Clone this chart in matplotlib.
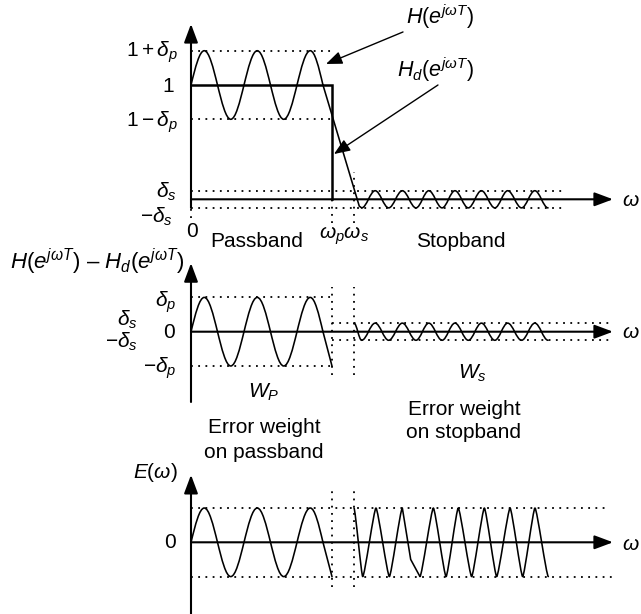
import matplotlib
matplotlib.use('Agg')
import matplotlib.pyplot as plt
from matplotlib.path import Path
from matplotlib.patches import PathPatch

plt.rcParams['font.family'] = ['Liberation Sans', 'DejaVu Sans']
plt.rcParams['mathtext.fontset'] = 'custom'
plt.rcParams['mathtext.rm'] = 'Liberation Sans'
plt.rcParams['mathtext.it'] = 'Liberation Sans:italic'
plt.rcParams['mathtext.bf'] = 'Liberation Sans:bold'
plt.rcParams['mathtext.sf'] = 'Liberation Sans'

# ---------------- data ----------------
delta_p = 0.3          # passband ripple
delta_s = 0.075        # stopband ripple
omega_p = 10.64        # passband edge
omega_s = 12.30        # stopband edge
omega_max = 31.85      # end of frequency axis

# passband ripple extrema (normalised by delta_p)
pass_w = [0, 1, 3, 5, 7, 9, 9.96]
pass_v = [0, 1, -1, 1, -1, 1, 0]
# passband error continues straight to -delta_p at omega_p
pass_end_w = [9.96, 10.64]
pass_end_v = [0, -1]

# transition band of H (absolute magnitude)
trans_w = [9.96, 12.70, 12.88]
trans_h = [1.0, -0.06, -0.075]

# stopband ripple extrema (normalised by delta_s)
stop_w = [12.88, 13.90, 14.92, 15.95, 16.98, 17.95, 18.95, 19.92,
          20.93, 21.92, 22.93, 23.90, 24.95, 25.95, 26.95]
stop_v = [-1, 1, -1, 1, -1, 1, -1, 1, -1, 1, -1, 1, -1, 1, -1]

# weighted error in stopband (normalised by delta_p)
err_stop_w = [12.30, 12.96, 13.96, 14.97, 15.95, 16.58, 17.28, 18.29, 19.25,
              20.17, 21.18, 22.14, 23.07, 24.08, 25.03, 25.96, 26.97]
err_stop_v = [1, -1, 1, -1, 1, -0.5, -1, 1, -1, 1, -1, 1, -1, 1, -1, 1, -1]

# desired response
hd_w = [0, omega_p, omega_p]
hd_h = [1, 1, 0]

# ---------------- figure ----------------
W, H = 641, 614
fig = plt.figure(figsize=(W / 100, H / 100), dpi=100)
UNIT_X = 13.25
UNIT_Y = 114.3
X0 = 191


def band_axes(top_px, bot_px, zero_px):
    ax = fig.add_axes([0, 1 - bot_px / H, 1, (bot_px - top_px) / H])
    ax.set_xlim(-X0 / UNIT_X, (W - X0) / UNIT_X)
    ax.set_ylim((zero_px - bot_px) / UNIT_Y, (zero_px - top_px) / UNIT_Y)
    ax.axis('off')
    return ax


def wave(ax, w, v, scale, offset=0.0, k=0.3634, lw=1.15):
    verts = [(w[0], offset + scale * v[0])]
    codes = [Path.MOVETO]
    for i in range(len(w) - 1):
        a, b = w[i], w[i + 1]
        va, vb = v[i], v[i + 1]
        d = b - a
        if abs(va) == 1 and abs(vb) == 1:
            c1, c2 = (a + k * d, va), (b - k * d, vb)
        elif va == 0 and abs(vb) == 1:
            c1, c2 = (a + d / 3, vb * 0.5236), (b - 0.358 * d, vb)
        elif vb == 0 and abs(va) == 1:
            c1, c2 = (a + 0.358 * d, va), (b - d / 3, va * 0.5236)
        else:
            verts.append((b, offset + scale * vb))
            codes.append(Path.LINETO)
            continue
        for (x, y) in (c1, c2, (b, vb)):
            verts.append((x, offset + scale * y))
        codes += [Path.CURVE4] * 3
    ax.add_patch(PathPatch(Path(verts, codes), fill=False, lw=lw, ec='k',
                           joinstyle='round', capstyle='round'))


def arrow(ax, start, end, lw=1.5, hl=0.75, hw=0.28, ms=15):
    ax.annotate('', xy=end, xytext=start,
                arrowprops=dict(arrowstyle=f'-|>,head_length={hl},head_width={hw}',
                                lw=lw, color='k', shrinkA=0, shrinkB=0,
                                mutation_scale=ms),
                annotation_clip=False)


DOT = dict(color='k', lw=1.3, ls=(0, (1, 3.0)))


def txt(x, y, s, ha='center', va='center', size=15, **kw):
    fig.text(x / W, 1 - y / H, s, ha=ha, va=va, fontsize=size, **kw)


# ---------- top panel: H and Hd ----------
ax1 = band_axes(0, 255, 199.3)
ax1.hlines([1 + delta_p, 1 - delta_p], 0, 10.57, **DOT)
ax1.hlines([delta_s, -delta_s], 0, 28.15, **DOT)
ax1.vlines(0, -0.16, -delta_s, **DOT)
ax1.vlines(omega_p, -0.207, 0, **DOT)
ax1.vlines(omega_s, -0.207, 0.239, **DOT)
ax1.plot(hd_w, hd_h, color='k', lw=1.8, solid_joinstyle='miter')
arrow(ax1, (0, 0), (omega_max, 0))
arrow(ax1, (0, -delta_s), (0, 1.534))
wave(ax1, pass_w, pass_v, delta_p, offset=1.0)
ax1.plot(trans_w, trans_h, color='k', lw=1.15)
wave(ax1, stop_w, stop_v, delta_s)
ax1.annotate('', xy=(10.19, 1.184), xytext=(16.0, 1.464),
             arrowprops=dict(arrowstyle='-|>,head_length=0.7,head_width=0.28',
                             lw=1.0, color='k', shrinkA=0, shrinkB=0, mutation_scale=14))
ax1.annotate('', xy=(10.79, 0.396), xytext=(18.64, 1.0),
             arrowprops=dict(arrowstyle='-|>,head_length=0.7,head_width=0.28',
                             lw=1.0, color='k', shrinkA=0, shrinkB=0, mutation_scale=14))

# ---------- middle panel: H - Hd ----------
ax2 = band_axes(255, 460, 331.7)
ax2.hlines([delta_p, -delta_p], 0, omega_p, **DOT)
ax2.hlines([delta_s, -delta_s], omega_p, omega_max, **DOT)
ax2.vlines([omega_p, omega_s], -0.38, 0.39, **DOT)
arrow(ax2, (0, 0), (omega_max, 0))
arrow(ax2, (0, -0.615), (0, 0.60))
wave(ax2, pass_w, pass_v, delta_p)
ax2.plot(pass_end_w, [delta_p * v for v in pass_end_v], color='k', lw=1.15)
wave(ax2, [omega_s] + stop_w, [1] + stop_v, delta_s)

# ---------- bottom panel: weighted error ----------
ax3 = band_axes(460, 614, 542.3)
ax3.hlines(delta_p, 0, 31.25, **DOT)
ax3.hlines(-delta_p, 0, omega_max, **DOT)
ax3.vlines([omega_p, omega_s], -0.39, 0.475, **DOT)
arrow(ax3, (0, 0), (omega_max, 0))
arrow(ax3, (0, -0.70), (0, 0.59))
wave(ax3, pass_w, pass_v, delta_p)
ax3.plot(pass_end_w, [delta_p * v for v in pass_end_v], color='k', lw=1.15)
wave(ax3, err_stop_w, err_stop_v, delta_p, k=0.15)

# ---------- texts ----------
txt(178, 52, r'$1+\delta_p$', ha='right')
txt(174, 87, '1', ha='right')
txt(178, 122, r'$1-\delta_p$', ha='right')
txt(177, 192, r'$\delta_s$', ha='right')
txt(173, 217, r'$-\delta_s$', ha='right')
txt(192, 232, '0')
txt(257, 242, 'Passband')
txt(344, 236, r'$\omega_p\omega_s$')
txt(461, 242, 'Stopband')
txt(640, 201, r'$\omega$', ha='right')
txt(440, 17, r'$H(e^{j\omega T})$', size=15.5)
txt(436, 70, r'$H_d(e^{j\omega T})$', size=15.5)

txt(10, 262, r'$H(e^{j\omega T})$ – $H_d(e^{j\omega T})$', ha='left', size=16)
txt(176, 302, r'$\delta_p$', ha='right')
txt(138, 320, r'$\delta_s$', ha='right')
txt(175, 333, '0', ha='right')
txt(138, 342, r'$-\delta_s$', ha='right')
txt(176, 368, r'$-\delta_p$', ha='right')
txt(640, 332, r'$\omega$', ha='right')
txt(264, 392, r'$W_P$')
txt(472, 373, r'$W_s$')
txt(464, 421, 'Error weight\non stopband', linespacing=1.32)
txt(264, 440, 'Error weight\non passband', linespacing=1.42)

txt(178, 473, r'$E(\omega)$', ha='right')
txt(176, 543, '0', ha='right')
txt(640, 544, r'$\omega$', ha='right')

fig.savefig('out.png', dpi=100, facecolor='white')
